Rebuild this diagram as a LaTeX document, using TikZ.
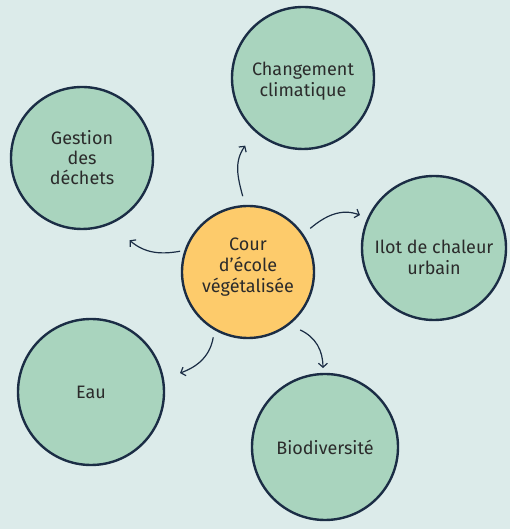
\documentclass[tikz,border=0pt]{standalone}
\usepackage{fontspec}
\setmainfont{Fira Sans}
\usetikzlibrary{arrows.meta,calc}
\definecolor{bg}{HTML}{DCEBEA}
\definecolor{bubble}{HTML}{A9D4BE}
\definecolor{core}{HTML}{FDCB6B}
\definecolor{ink}{HTML}{1B2D45}
\definecolor{txt}{HTML}{2B2B2B}
\begin{document}
\begin{tikzpicture}[x=1pt,y=1pt,
  topic/.style={circle, draw=ink, line width=2.4pt, fill=bubble, inner sep=0pt,
    minimum size=#1, align=center, text=txt, font=\fontsize{18}{20}\selectfont},
  corebox/.style={circle, draw=ink, line width=2.4pt, fill=core, inner sep=0pt,
    minimum size=#1, align=center, text=txt, font=\fontsize{18}{21}\selectfont},
  caption/.style={align=center, text=txt, inner sep=0pt, font=\fontsize{18}{21}\selectfont},
  link/.style={draw=ink, line width=1.2pt, -{Straight Barb[length=4pt,width=9pt]}}
]
\fill[bg] (0,0) rectangle (510,529);
\useasboundingbox (0,0) rectangle (510,529);

\node[topic=142] (chg) at (303,451) {};
\node[caption] (chgt) at ([yshift=-3pt]chg.center) {Changement\\climatique};
\node[topic=142] (ges) at (82,371) {Gestion\\des\\déchets};
\node[topic=144] (ilot) at (434,281) {};
\node[caption] (ilott) at ([yshift=-9pt]ilot.center) {Ilot de chaleur\\urbain};
\node[topic=146] (eau) at (91,137) {Eau};
\node[topic=146] (bio) at (325,82) {Biodiversité};
\node[corebox=132] (cen) at (248,257) {};
\node[caption] (cent) at ([yshift=5pt]cen.center) {Cour\\d’école\\végétalisée};

\coordinate (s1) at ($(cen.center)+(94:76)$);
\coordinate (e1) at ($(chg.center)+(229.5:89)$);
\coordinate (s2) at ($(cen.center)+(35:76)$);
\coordinate (e2) at ($(ilot.center)+(156:81)$);
\coordinate (s3) at ($(cen.center)+(163:71)$);
\coordinate (e3) at ($(ges.center)+(-60:95)$);
\coordinate (s4) at ($(cen.center)+(242:74)$);
\coordinate (e4) at ($(eau.center)+(12:91)$);
\coordinate (s5) at ($(cen.center)+(-48:78)$);
\coordinate (e5) at ($(bio.center)+(91.5:79)$);

\draw[link] (s1) to[out=105,in=235] (e1);
\draw[link] (s2) to[out=40,in=160] (e2);
\draw[link] (s3) to[out=190,in=-40] (e3);
\draw[link] (s4) to[out=260,in=20] (e4);
\draw[link] (s5) to[out=-25,in=90] (e5);
\end{tikzpicture}
\end{document}
